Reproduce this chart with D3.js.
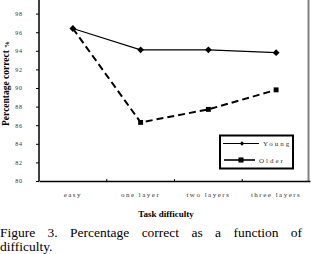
<!DOCTYPE html>
<html>
<head>
<meta charset="utf-8">
<script src="https://cdn.jsdelivr.net/npm/d3@7"></script>
<style>
  body { margin: 0; background: #fff; }
  svg { display: block; font-family: "Liberation Serif", "Times New Roman", serif; }
</style>
</head>
<body>
<script>
var width = 314;
var height = 254;

// data
var categories = ["easy", "one layer", "two layers", "three layers"];
var youngValues = [96.4, 94.1, 94.1, 93.8];
var olderValues = [96.4, 86.3, 87.7, 89.8];
var yTicks = [80, 82, 84, 86, 88, 90, 92, 94, 96, 98];
var captionWords = ["Figure", "3.", "Percentage", "correct", "as", "a", "function", "of"];

var frame = d3.select("body").append("svg")
    .attr("width", width)
    .attr("height", height);

var x = d3.scaleBand().domain(categories).range([39, 310]).padding(0);
var y = d3.scaleLinear().domain([80, 100]).range([181, -5]);

function cx(d, i) { return x(categories[i]) + x.bandwidth() / 2; }

// right frame line
frame.append("line")
    .attr("x1", 308.5).attr("x2", 308.5)
    .attr("y1", 0).attr("y2", 182)
    .attr("stroke", "#808080")
    .attr("stroke-width", 2);

// y axis
var yAxis = frame.append("g")
    .attr("transform", "translate(39,0)")
    .call(d3.axisLeft(y).tickValues(yTicks).tickSize(3).tickPadding(13).tickSizeOuter(0));
yAxis.select(".domain").attr("stroke-width", 1.5).attr("d", "M0,0V181");
yAxis.selectAll("text")
    .attr("font-family", "Liberation Serif")
    .attr("font-size", 6)
    .attr("letter-spacing", 0.9)
    .attr("fill", "#333");

// x axis
var xAxis = frame.append("g")
    .attr("transform", "translate(0,181)")
    .call(d3.axisBottom(x).tickSize(0).tickPadding(11));
xAxis.select(".domain").attr("stroke-width", 1.5);
xAxis.selectAll("text")
    .attr("font-family", "Liberation Serif")
    .attr("font-size", 7)
    .attr("letter-spacing", 1.5)
    .attr("fill", "#333");
// small inward category separators
frame.selectAll(".sep")
    .data(categories.slice(1))
    .enter().append("line")
    .attr("x1", function(d) { return x(d); })
    .attr("x2", function(d) { return x(d); })
    .attr("y1", 181).attr("y2", 179)
    .attr("stroke", "#000");

// lines
var line = d3.line().x(cx).y(function(d) { return y(d); });

frame.append("path")
    .datum(olderValues)
    .attr("d", line)
    .attr("fill", "none")
    .attr("stroke", "#000")
    .attr("stroke-width", 2)
    .attr("stroke-dasharray", "7,4");

frame.append("path")
    .datum(youngValues)
    .attr("d", line)
    .attr("fill", "none")
    .attr("stroke", "#000")
    .attr("stroke-width", 1.1);

var diamond = d3.symbol().type(d3.symbolDiamond2).size(30);
var square = d3.symbol().type(d3.symbolSquare).size(24);

frame.selectAll(".older")
    .data(olderValues.slice(1))
    .enter().append("path")
    .attr("d", square)
    .attr("transform", function(d, i) { return "translate(" + cx(d, i + 1) + "," + y(d) + ")"; });

frame.selectAll(".young")
    .data(youngValues)
    .enter().append("path")
    .attr("d", diamond)
    .attr("transform", function(d, i) { return "translate(" + cx(d, i) + "," + y(d) + ")"; });

// legend
var legend = frame.append("g");
legend.append("rect")
    .attr("x", 220).attr("y", 135.5)
    .attr("width", 73).attr("height", 33)
    .attr("fill", "#fff")
    .attr("stroke", "#000")
    .attr("stroke-width", 2);
legend.append("line")
    .attr("x1", 223).attr("x2", 259).attr("y1", 143.5).attr("y2", 143.5)
    .attr("stroke", "#000").attr("stroke-width", 1.1);
legend.append("path")
    .attr("d", d3.symbol().type(d3.symbolDiamond2).size(12))
    .attr("transform", "translate(242,143.5)");
legend.append("line")
    .attr("x1", 224).attr("x2", 255).attr("y1", 160).attr("y2", 160)
    .attr("stroke", "#000").attr("stroke-width", 1.6);
legend.append("path")
    .attr("d", d3.symbol().type(d3.symbolSquare).size(26))
    .attr("transform", "translate(241,160)");
legend.append("text")
    .attr("x", 263).attr("y", 146)
    .attr("font-size", 7).attr("letter-spacing", 2).attr("fill", "#333")
    .text("Young");
legend.append("text")
    .attr("x", 259).attr("y", 162.5)
    .attr("font-size", 7).attr("letter-spacing", 2).attr("fill", "#333")
    .text("Older");

// axis titles
frame.append("text")
    .attr("x", 166).attr("y", 217)
    .attr("text-anchor", "middle")
    .attr("font-size", 9).attr("font-weight", "bold")
    .text("Task difficulty");

frame.append("text")
    .attr("transform", "translate(8.5,88) rotate(-90)")
    .attr("text-anchor", "middle")
    .attr("font-size", 9.5).attr("font-weight", "bold")
    .text("Percentage correct");
frame.append("text")
    .attr("transform", "translate(9,44.5) rotate(-90)")
    .attr("text-anchor", "middle")
    .attr("font-size", 7).attr("font-weight", "bold")
    .text("%");

// caption, justified word by word
var capStart = 0, capEnd = 302;
var words = frame.selectAll(".capword")
    .data(captionWords)
    .enter().append("text")
    .attr("class", "capword")
    .attr("y", 237)
    .attr("font-size", 13.5)
    .text(function(d) { return d; });
var widths = [];
words.each(function() { widths.push(this.getComputedTextLength()); });
var gap = (capEnd - capStart - d3.sum(widths)) / (captionWords.length - 1);
var pos = capStart;
words.attr("x", function(d, i) {
    var p = pos;
    pos += widths[i] + gap;
    return p;
});
frame.append("text")
    .attr("x", 0).attr("y", 250.5)
    .attr("font-size", 13.5)
    .text("difficulty.");
</script>
</body>
</html>
